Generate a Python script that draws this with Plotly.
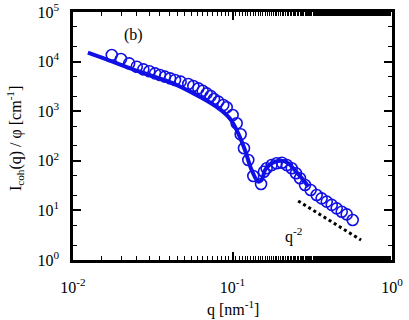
import plotly.graph_objects as go

# measured points (open circles)
q_data = [0.0175, 0.0200, 0.0225, 0.0251, 0.0276, 0.0301, 0.0327, 0.0351, 0.0377,
          0.0406, 0.0436, 0.0473, 0.0528, 0.0568, 0.0611, 0.0650, 0.0689, 0.0730,
          0.0766, 0.0815, 0.0875, 0.0920, 0.1002, 0.1062, 0.1125, 0.1180, 0.1256,
          0.1350, 0.1510, 0.1575, 0.1637, 0.1760, 0.1890, 0.2040, 0.2190, 0.2350,
          0.2500, 0.2650, 0.2850, 0.3090, 0.3370, 0.3620, 0.3900, 0.4190, 0.4500,
          0.4840, 0.5200, 0.5670]
I_data = [13600, 11300, 9230, 7900, 6980, 6370, 5800, 5370, 4970,
          4600, 4260, 3940, 3530, 3220, 2890, 2590, 2290, 2020,
          1760, 1560, 1330, 1200, 838, 570, 342, 179, 104,
          49.4, 34.0, 60.0, 70.6, 82.0, 89.0, 91.6, 82.0, 70.6,
          56.0, 44.4, 32.5, 25.8, 20.4, 17.5, 15.0, 12.9, 11.0,
          9.4, 8.3, 6.4]

# model fit (solid line)
q_fit = [0.0124, 0.0162, 0.0262, 0.0424, 0.0622, 0.0791, 0.0960, 0.1086, 0.1197,
         0.1318, 0.1450, 0.1525, 0.1600, 0.1760, 0.2030, 0.2240, 0.2460, 0.2780, 0.2990]
I_fit = [15100, 11100, 6250, 3650, 1960, 1230, 719, 358, 165,
         65.3, 37.9, 41.0, 65.3, 89.0, 100, 89.0, 65.0, 41.0, 30.0]

# q^-2 guide
q_guide = [0.258, 0.640]
I_guide = [15.5, 2.52]

font = "Liberation Serif, Times New Roman, serif"
blue = "#1010e6"

fig = go.Figure()
fig.add_trace(go.Scatter(x=q_fit, y=I_fit, mode="lines", line_shape="spline",
                         line=dict(color=blue, width=4)))
fig.add_trace(go.Scatter(x=q_data, y=I_data, mode="markers",
                         marker=dict(symbol="circle-open", size=11, color=blue,
                                     line=dict(color=blue, width=1.6))))
fig.add_trace(go.Scatter(x=q_guide, y=I_guide, mode="lines",
                         line=dict(color="black", width=3, dash="dot")))

axis = dict(showline=True, linecolor="black", linewidth=2.5, mirror="ticks",
            ticks="inside", ticklen=8, tickwidth=2, tickcolor="black",
            showgrid=False, zeroline=False, type="log", automargin=False,
            ticklabeloverflow="allow",
            minor=dict(ticks="inside", ticklen=4, tickwidth=1.2, tickcolor="black"),
            tickfont=dict(family=font, size=16, color="black"))

txt = dict(xref="paper", yref="paper", showarrow=False, xanchor="center",
           yanchor="middle", font=dict(family=font, size=16, color="black"))

fig.update_layout(
    width=409, height=320,
    margin=dict(l=73, r=17, t=12, b=60),
    plot_bgcolor="white", paper_bgcolor="white",
    showlegend=False,
    font=dict(family=font, size=16, color="black"),
    xaxis=dict(axis, range=[-2, 0], tickvals=[0.01, 0.1, 1],
               ticktext=["10<sup>-2</sup>", "10<sup>-1</sup>", "10<sup>0</sup>"],
               ticklabelstandoff=11),
    yaxis=dict(axis, range=[0, 5], tickvals=[1, 10, 100, 1000, 1e4, 1e5],
               ticktext=["10<sup>0</sup>", "10<sup>1</sup>", "10<sup>2</sup>",
                         "10<sup>3</sup>", "10<sup>4</sup>", "10<sup>5</sup>"],
               ticklabelstandoff=8),
    annotations=[
        dict(txt, text="(b)", x=0.19, y=0.907),
        dict(txt, text="q<sup>-2</sup>", x=0.69, y=0.097),
        dict(txt, text="q [nm<sup>-1</sup>]", x=0.50, y=-0.195),
        dict(txt, text="I<sub>coh</sub>(q) / \u03c6 [cm<sup>-1</sup>]", x=-0.18, y=0.49,
             textangle=-90),
    ],
)

fig.write_html("out.html", config={"displayModeBar": False},
               post_script="document.body.style.margin='0';")
